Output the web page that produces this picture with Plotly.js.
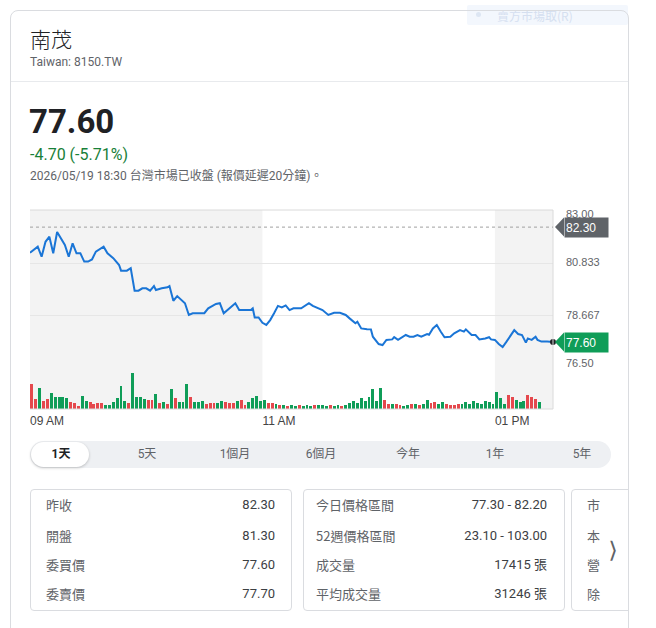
<!DOCTYPE html>
<html><head><meta charset="utf-8">
<script src="https://cdn.plot.ly/plotly-3.0.1.min.js"></script>
<style>
html,body{margin:0;padding:0;width:656px;height:628px;overflow:hidden;background:#fff;font-family:Roboto,Arial,"Noto Sans CJK TC",sans-serif;}
.abs{position:absolute;white-space:nowrap;}
.card{position:absolute;left:10px;top:10px;width:617px;height:700px;border:1px solid #dadce0;border-radius:8px;}
.sep{position:absolute;left:11px;top:81px;width:617px;height:1px;background:#e8eaed;}
.fade{position:absolute;left:467px;top:5px;width:161px;height:20px;background:#f3f7fd;border-radius:2px;}
.fade span{position:absolute;left:30px;top:2px;font-size:12px;color:#d5dff0;font-family:"Noto Sans CJK TC",sans-serif;}
.fade i{position:absolute;left:9px;top:7px;width:5px;height:5px;border-radius:50%;background:#dde6f3;}
.tabs{position:absolute;left:30px;top:441px;width:581px;height:27px;background:#eef0f3;border-radius:14px;}
.tabact{position:absolute;left:31px;top:442px;width:58px;height:25px;background:#fff;border-radius:13px;box-shadow:0 1px 3px rgba(0,0,0,0.22);}
.tab{position:absolute;top:441px;height:27px;line-height:27px;font-size:12px;color:#5f6368;transform:translateX(-50%);font-family:Roboto,"Noto Sans CJK TC",sans-serif;}
.box{position:absolute;top:489px;height:120px;border:1px solid #dadce0;border-radius:4px;background:#fff;}
.lbl{position:absolute;font-size:13px;color:#5f6368;line-height:16px;font-family:"Noto Sans CJK TC",Roboto,sans-serif;}
.val{position:absolute;font-size:13px;color:#3c4043;line-height:16px;text-align:right;font-family:Roboto,"Noto Sans CJK TC",sans-serif;}
#chart{position:absolute;left:0;top:195px;width:656px;height:240px;}
</style></head><body>
<div class="fade"><i></i><span>賣方市場取(R)</span></div>
<div class="card"></div>
<div class="sep"></div>
<div class="abs" style="left:30px;top:25px;font-size:21px;line-height:26px;color:#202124;font-family:'Noto Sans CJK TC',sans-serif;font-weight:300;">南茂</div>
<div class="abs" style="left:30px;top:54px;font-size:12px;line-height:16px;color:#5f6368;">Taiwan: 8150.TW</div>
<div class="abs" style="left:29px;top:101px;font-size:33px;line-height:42px;color:#202124;font-weight:700;">77.60</div>
<div class="abs" style="left:30px;top:145px;font-size:16px;line-height:20px;color:#188038;">-4.70 (-5.71%)</div>
<div class="abs" style="left:30px;top:168px;font-size:12px;line-height:16px;color:#5f6368;">2026/05/19 18:30 台灣市場已收盤 (報價延遲20分鐘)。</div>
<div id="chart"></div>
<div class="tabs"></div>
<div class="tabact"></div>
<div id="tabrow"></div>
<div id="boxes" style="position:absolute;left:0;top:0;width:628px;height:628px;overflow:hidden;"></div>
<div class="abs" style="left:604px;top:538px;font-size:20px;line-height:22px;color:#5f6368;transform:scaleX(0.7);">&#x276D;</div>
<script>
// ---------- data ----------
const tradeDay = '2026-05-19';
const prevClose = 82.30;
const priceTimes = ['09:00','09:02','09:04','09:06','09:08','09:10','09:12','09:14','09:16','09:18','09:20','09:22','09:24','09:26','09:28','09:30','09:32','09:34','09:38','09:40','09:43','09:46','09:47','09:50','09:52','09:54','09:56','09:58','10:00','10:02','10:04','10:05','10:08','10:11','10:12','10:14','10:16','10:18','10:20','10:22','10:24','10:30','10:32','10:36','10:38','10:40','10:42','10:46','10:48','10:54','10:55','10:56','10:58','11:00','11:02','11:04','11:06','11:08','11:10','11:12','11:14','11:16','11:20','11:24','11:26','11:30','11:31','11:34','11:37','11:40','11:43','11:45','11:48','11:49','11:51','11:54','11:56','11:57','12:00','12:02','12:04','12:07','12:08','12:10','12:13','12:14','12:16','12:18','12:20','12:22','12:25','12:26','12:28','12:30','12:32','12:34','12:37','12:39','12:42','12:44','12:45','12:48','12:50','12:52','12:55','12:57','12:58','13:00','13:02','13:04','13:06','13:09','13:10','13:12','13:14','13:16','13:17','13:19','13:21','13:22','13:24','13:27','13:30'];
const prices = [81.25,81.39,81.50,81.09,81.70,81.91,81.23,82.10,81.84,81.57,81.09,81.64,81.23,81.23,80.89,80.89,80.98,81.30,81.50,81.23,81.03,80.75,80.52,80.52,80.62,79.70,79.70,79.80,79.80,79.70,79.89,79.73,79.80,79.84,79.89,79.29,79.48,79.35,79.19,78.71,78.78,78.78,78.98,79.16,79.19,78.78,78.91,79.19,78.91,78.91,78.98,78.61,78.61,78.39,78.30,78.50,78.78,79.08,79.02,79.10,78.91,78.98,78.98,79.19,79.08,78.94,78.91,78.71,78.80,78.80,78.71,78.57,78.37,78.43,78.16,78.13,78.12,77.82,77.52,77.48,77.69,77.71,77.80,77.69,77.82,77.89,77.82,77.82,77.89,77.82,77.93,77.90,78.16,78.30,78.03,77.80,77.82,77.96,78.09,78.03,78.12,77.89,77.89,77.71,77.75,77.80,77.71,77.69,77.52,77.40,77.62,77.96,78.09,77.93,77.89,77.58,77.75,77.69,77.82,77.69,77.62,77.62,77.60];
// volume per 2-minute bar (張), starting 09:00
const volumes = [402,158,341,127,163,259,190,194,188,176,
  112,95,46,208,131,109,82,97,93,64,
  61,113,178,372,129,96,578,194,190,160,
  146,142,241,95,113,81,322,176,112,109,
  401,193,114,110,127,79,96,94,97,131,
  112,95,98,126,145,63,111,177,209,128,
  144,97,93,78,62,61,47,66,49,63,
  48,62,51,65,60,63,47,62,50,64,
  46,60,94,128,97,176,129,191,318,127,
  337,146,79,81,77,62,49,64,80,78,
  63,82,144,96,112,79,113,81,63,66,
  79,81,110,78,129,97,80,128,113,81,
  272,177,82,224,193,146,112,129,226,191,
  161,113];
// +1 = price up in bar (green), -1 = down (red)
const volDirection = [-1,-1,1,-1,-1,1,1,1,1,1,
  -1,-1,-1,1,1,-1,-1,-1,-1,1,
  1,1,1,1,1,-1,1,1,1,1,
  -1,-1,1,-1,1,-1,1,-1,1,1,
  1,-1,1,1,1,-1,-1,-1,1,1,
  -1,-1,-1,1,-1,-1,1,1,1,1,
  1,-1,-1,1,-1,1,-1,1,1,-1,
  1,1,1,-1,1,1,1,-1,1,1,
  -1,1,1,1,1,1,1,1,1,1,
  1,-1,-1,1,-1,-1,1,1,-1,1,
  -1,1,1,-1,-1,1,1,-1,-1,-1,
  -1,1,1,1,1,1,1,1,1,1,
  1,1,1,-1,-1,1,1,1,-1,-1,
  -1,1];
const barStart = '09:00';
const barStepMin = 2;
const sessionStart = '09:00', sessionEnd = '13:30';
const shadeBands = [['09:00','11:00'],['13:00','13:30']];
const xTickTimes = ['09:00','11:00','13:00'];
const xTickText = ['09 AM','11 AM','01 PM'];
const priceTicks = [76.50, 78.667, 80.833, 83.00];
const priceTickText = ['76.50','78.667','80.833','83.00'];
const volMaxAxis = 640;

const tabs = ['1天','5天','1個月','6個月','今年','1年','5年'];
const statsLeft = [['昨收','82.30'],['開盤','81.30'],['委買價','77.60'],['委賣價','77.70']];
const statsMid = [['今日價格區間','77.30 - 82.20'],['52週價格區間','23.10 - 103.00'],['成交量','17415 張'],['平均成交量','31246 張']];
const statsRight = ['市','本','營','除'];

// ---------- HTML parts ----------
const tabX = [61,147,235,321,408,495,582];
document.getElementById('tabrow').innerHTML = tabs.map((t,i)=>
  `<div class="tab" style="left:${tabX[i]}px;${i===0?'color:#202124;font-weight:700;':''}">${t}</div>`).join('');
const rowY = [497,528,557,586];
let bh = '';
bh += `<div class="box" style="left:30px;width:260px;"></div>`;
bh += `<div class="box" style="left:303px;width:260px;"></div>`;
bh += `<div class="box" style="left:571px;width:100px;"></div>`;
statsLeft.forEach((r,i)=>{bh+=`<div class="lbl" style="left:46px;top:${rowY[i]}px">${r[0]}</div><div class="val" style="left:150px;width:125px;top:${rowY[i]}px">${r[1]}</div>`;});
statsMid.forEach((r,i)=>{bh+=`<div class="lbl" style="left:316px;top:${rowY[i]}px">${r[0]}</div><div class="val" style="left:400px;width:147px;top:${rowY[i]}px">${r[1]}</div>`;});
statsRight.forEach((r,i)=>{bh+=`<div class="lbl" style="left:587px;top:${rowY[i]}px">${r}</div>`;});
document.getElementById('boxes').innerHTML = bh;

// ---------- chart ----------
const T = t => `${tradeDay} ${t}:00`;
const toHM = m => String(Math.floor(m/60)).padStart(2,'0')+':'+String(m%60).padStart(2,'0');
const startMin = parseInt(barStart.slice(0,2))*60+parseInt(barStart.slice(3));
const barTimes = volumes.map((v,i)=>T(toHM(startMin+barStepMin*i)));
const green = '#0f9d58', red = '#e5484d';

const lastT = T(priceTimes[priceTimes.length-1]);
const lastP = prices[prices.length-1];

const traces = [
  {type:'bar', x:barTimes, y:volumes, xaxis:'x', yaxis:'y2',
   width:90000, offset:15000,
   marker:{color:volDirection.map(d=>d>0?green:red), line:{width:0}}, hoverinfo:'skip'},
  {type:'scatter', mode:'lines', x:priceTimes.map(T), y:prices, xaxis:'x', yaxis:'y',
   line:{color:'#1a75d6', width:2}, hoverinfo:'skip'},
  {type:'scatter', mode:'markers', x:[lastT], y:[lastP], xaxis:'x', yaxis:'y',
   marker:{color:'#202124', size:6}, hoverinfo:'skip', cliponaxis:false}
];

const shapes = shadeBands.map(b=>({type:'rect', xref:'x', yref:'paper', x0:T(b[0]), x1:T(b[1]), y0:0, y1:1,
  fillcolor:'#f3f3f3', line:{width:0}, layer:'below'}));
shapes.push({type:'path', xref:'paper', yref:'paper', path:'M0,1L1,1L1,0L0,0', line:{color:'#dadada', width:1}, layer:'above'});
shapes.push({type:'line', xref:'paper', yref:'y', x0:0, x1:1, y0:prevClose, y1:prevClose, line:{color:'#a0a0a0', width:1, dash:'dot'}, layer:'above'});
const tagPointer = (yv,col)=>({type:'path', xref:'paper', yref:'y', xsizemode:'pixel', ysizemode:'pixel',
  xanchor:1, yanchor:yv, path:'M 2 0 L 11 9.5 L 11 -9.5 Z', fillcolor:col, line:{width:0}, layer:'above'});
shapes.push(tagPointer(prevClose,'#5f6368'));
shapes.push(tagPointer(lastP,green));

const labelShift = [6,1,1,-4];
const annotations = priceTicks.map((v,i)=>({xref:'paper', yref:'y', x:1, y:v, xanchor:'left', yanchor:'middle',
  xshift:11, yshift:labelShift[i], text:priceTickText[i], showarrow:false, font:{family:'Arial', size:11, color:'#5f6368'}}));
const tag = (yv,txt,col)=>({xref:'paper', yref:'y', x:1, y:yv, xanchor:'left', yanchor:'middle', xshift:11,
  text:txt, showarrow:false, bgcolor:col, width:41, height:17, borderpad:1, align:'left',
  font:{family:'Arial', size:12, color:'#fff'}});
annotations.push(tag(prevClose, prevClose.toFixed(2), '#5f6368'));
annotations.push(tag(lastP, lastP.toFixed(2), green));

const layout = {
  width:656, height:240, margin:{l:30, r:103, t:15, b:26},
  paper_bgcolor:'rgba(0,0,0,0)', plot_bgcolor:'#ffffff', showlegend:false, hovermode:false, bargap:0,
  xaxis:{type:'date', anchor:'y2', range:[T(sessionStart), T(sessionEnd)], tickvals:xTickTimes.map(T), ticktext:xTickText,
    ticklabelposition:'outside right', ticklabelstandoff:3, ticks:'', showgrid:false, zeroline:false, showline:false,
    tickfont:{family:'Arial', size:12, color:'#444'}, fixedrange:true},
  yaxis:{domain:[0.201,1], range:[priceTicks[0], priceTicks[priceTicks.length-1]], tickvals:priceTicks, showticklabels:false,
    gridcolor:'#e6e6e6', gridwidth:1, zeroline:false, side:'right', fixedrange:true},
  yaxis2:{domain:[0,0.201], range:[0, volMaxAxis], showgrid:false, showticklabels:false, zeroline:false, fixedrange:true},
  shapes:shapes, annotations:annotations
};
Plotly.newPlot('chart', traces, layout, {displayModeBar:false, staticPlot:true});
</script>
</body></html>
